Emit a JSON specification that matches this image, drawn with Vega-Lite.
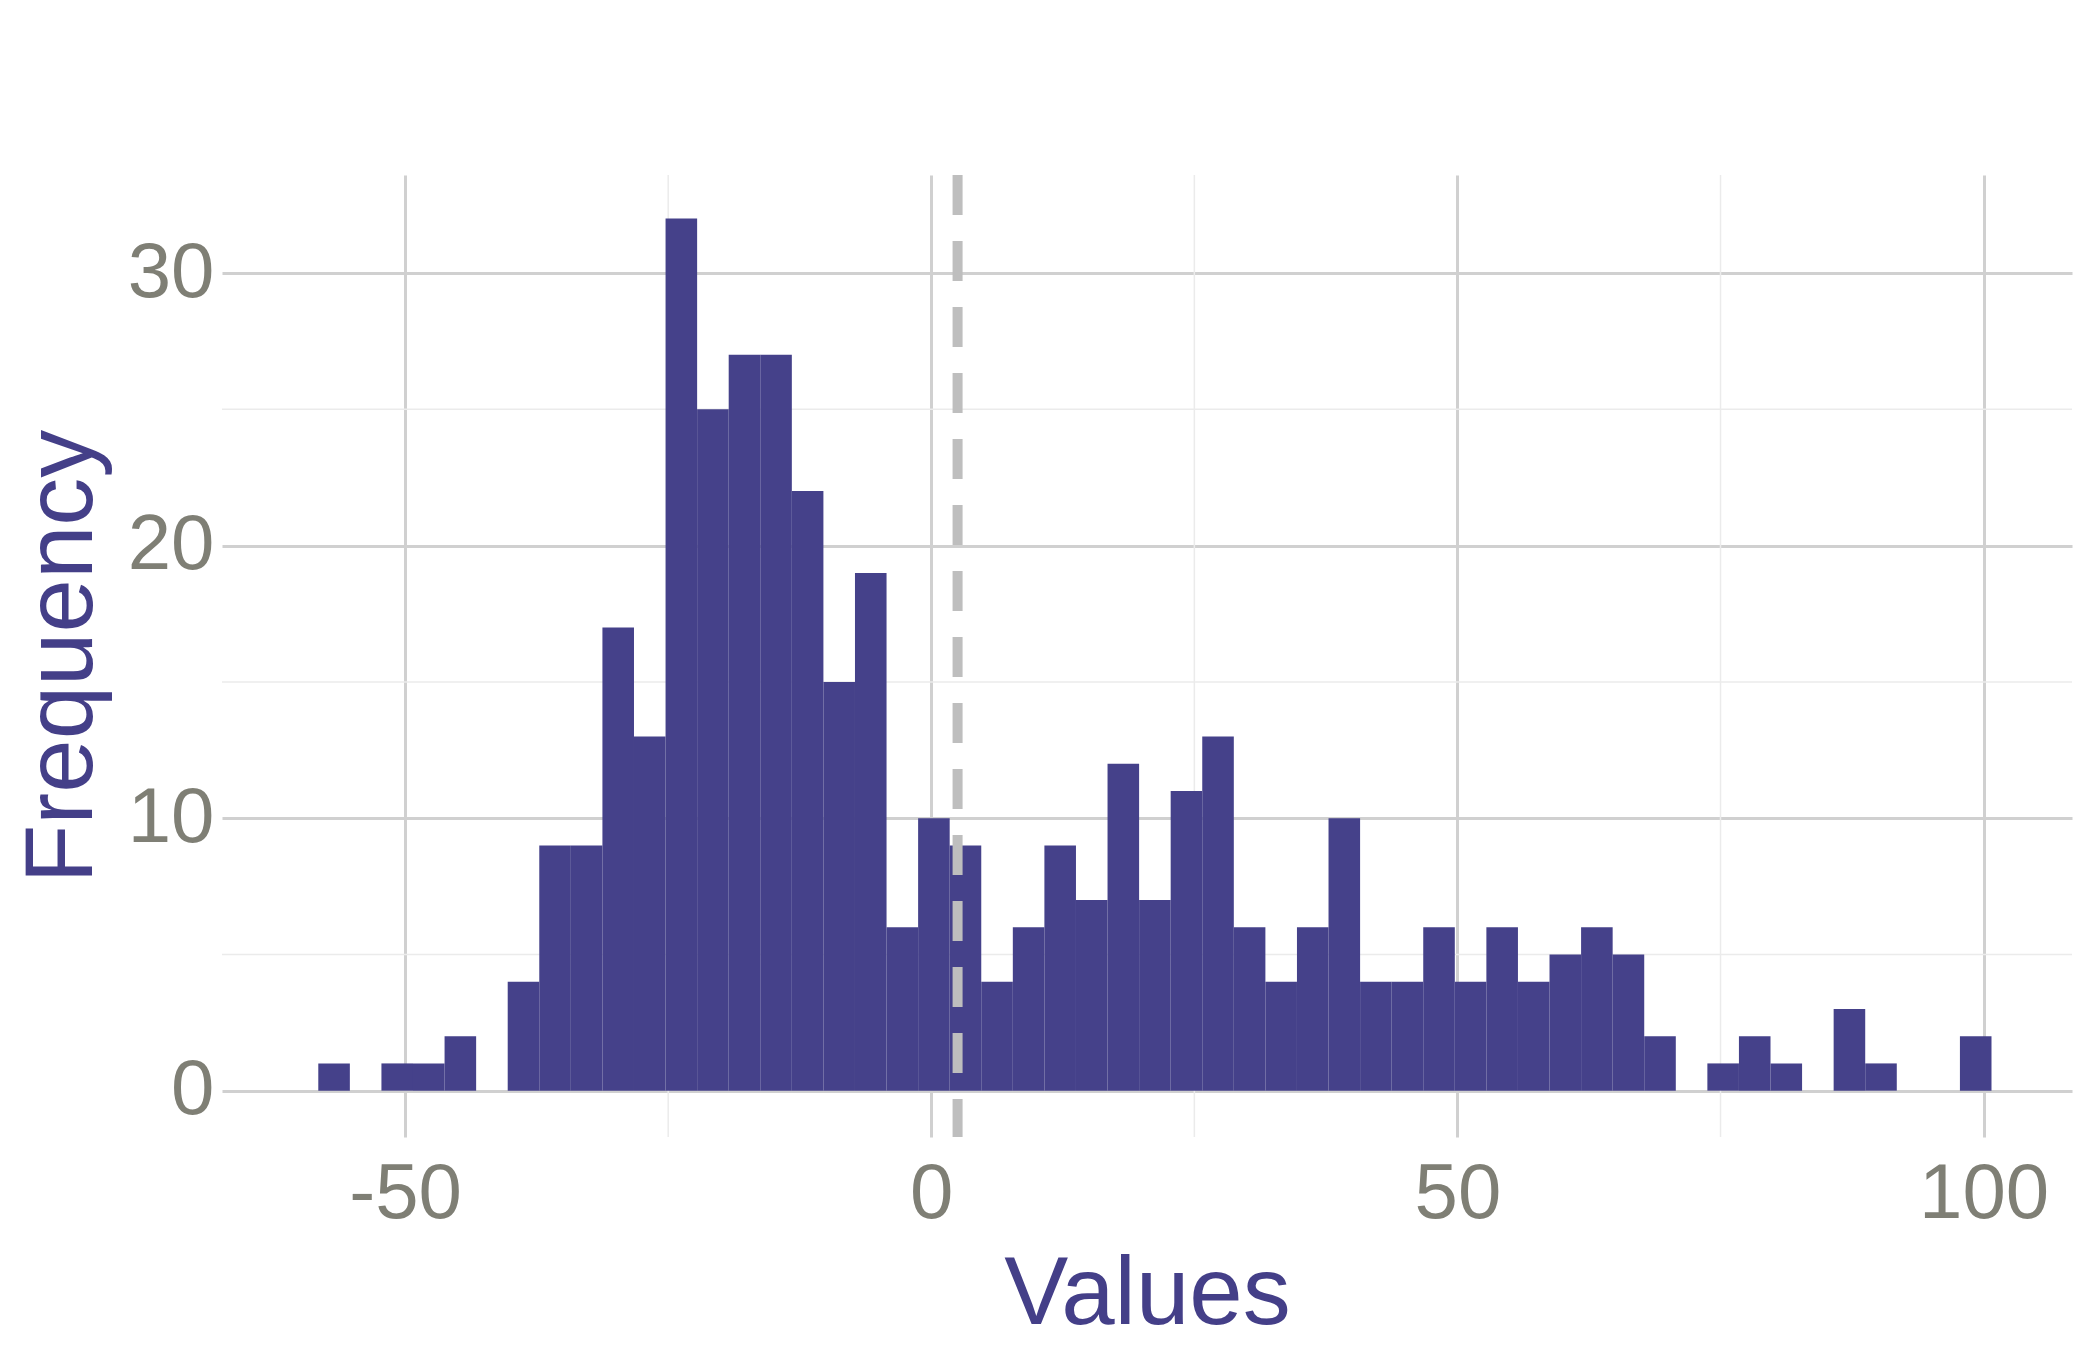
{
  "$schema": "https://vega.github.io/schema/vega-lite/v6.json",
  "width": 1850,
  "height": 962,
  "autosize": "none",
  "padding": {"left": 222, "top": 175, "right": 28, "bottom": 213},
  "background": "white",
  "config": {
    "view": {"stroke": null},
    "font": "Liberation Sans",
    "axis": {
      "domain": false,
      "ticks": false,
      "gridColor": "#d0d0d0",
      "gridWidth": 3,
      "labelFont": "Liberation Sans",
      "labelFontSize": 78,
      "labelColor": "#7f7f75",
      "titleFont": "Liberation Sans",
      "titleFontSize": 96,
      "titleFontWeight": "normal",
      "titleColor": "#443f88"
    }
  },
  "data": {
    "values": [
      {"bin_start": -58.25, "bin_end": -55.25, "count": 1}, {"bin_start": -55.25, "bin_end": -52.25, "count": 0},
      {"bin_start": -52.25, "bin_end": -49.25, "count": 1}, {"bin_start": -49.25, "bin_end": -46.25, "count": 1},
      {"bin_start": -46.25, "bin_end": -43.25, "count": 2}, {"bin_start": -43.25, "bin_end": -40.25, "count": 0},
      {"bin_start": -40.25, "bin_end": -37.25, "count": 4}, {"bin_start": -37.25, "bin_end": -34.25, "count": 9},
      {"bin_start": -34.25, "bin_end": -31.25, "count": 9}, {"bin_start": -31.25, "bin_end": -28.25, "count": 17},
      {"bin_start": -28.25, "bin_end": -25.25, "count": 13}, {"bin_start": -25.25, "bin_end": -22.25, "count": 32},
      {"bin_start": -22.25, "bin_end": -19.25, "count": 25}, {"bin_start": -19.25, "bin_end": -16.25, "count": 27},
      {"bin_start": -16.25, "bin_end": -13.25, "count": 27}, {"bin_start": -13.25, "bin_end": -10.25, "count": 22},
      {"bin_start": -10.25, "bin_end": -7.25, "count": 15}, {"bin_start": -7.25, "bin_end": -4.25, "count": 19},
      {"bin_start": -4.25, "bin_end": -1.25, "count": 6}, {"bin_start": -1.25, "bin_end": 1.75, "count": 10},
      {"bin_start": 1.75, "bin_end": 4.75, "count": 9}, {"bin_start": 4.75, "bin_end": 7.75, "count": 4},
      {"bin_start": 7.75, "bin_end": 10.75, "count": 6}, {"bin_start": 10.75, "bin_end": 13.75, "count": 9},
      {"bin_start": 13.75, "bin_end": 16.75, "count": 7}, {"bin_start": 16.75, "bin_end": 19.75, "count": 12},
      {"bin_start": 19.75, "bin_end": 22.75, "count": 7}, {"bin_start": 22.75, "bin_end": 25.75, "count": 11},
      {"bin_start": 25.75, "bin_end": 28.75, "count": 13}, {"bin_start": 28.75, "bin_end": 31.75, "count": 6},
      {"bin_start": 31.75, "bin_end": 34.75, "count": 4}, {"bin_start": 34.75, "bin_end": 37.75, "count": 6},
      {"bin_start": 37.75, "bin_end": 40.75, "count": 10}, {"bin_start": 40.75, "bin_end": 43.75, "count": 4},
      {"bin_start": 43.75, "bin_end": 46.75, "count": 4}, {"bin_start": 46.75, "bin_end": 49.75, "count": 6},
      {"bin_start": 49.75, "bin_end": 52.75, "count": 4}, {"bin_start": 52.75, "bin_end": 55.75, "count": 6},
      {"bin_start": 55.75, "bin_end": 58.75, "count": 4}, {"bin_start": 58.75, "bin_end": 61.75, "count": 5},
      {"bin_start": 61.75, "bin_end": 64.75, "count": 6}, {"bin_start": 64.75, "bin_end": 67.75, "count": 5},
      {"bin_start": 67.75, "bin_end": 70.75, "count": 2}, {"bin_start": 70.75, "bin_end": 73.75, "count": 0},
      {"bin_start": 73.75, "bin_end": 76.75, "count": 1}, {"bin_start": 76.75, "bin_end": 79.75, "count": 2},
      {"bin_start": 79.75, "bin_end": 82.75, "count": 1}, {"bin_start": 82.75, "bin_end": 85.75, "count": 0},
      {"bin_start": 85.75, "bin_end": 88.75, "count": 3}, {"bin_start": 88.75, "bin_end": 91.75, "count": 1},
      {"bin_start": 91.75, "bin_end": 94.75, "count": 0}, {"bin_start": 94.75, "bin_end": 97.75, "count": 0},
      {"bin_start": 97.75, "bin_end": 100.75, "count": 2}
    ]
  },
  "layer": [
    {
      "data": {"values": [{"v": -25}, {"v": 25}, {"v": 75}]},
      "mark": {"type": "rule", "color": "#ebebeb", "strokeWidth": 1.5},
      "encoding": {"x": {"field": "v", "type": "quantitative"}}
    },
    {
      "data": {"values": [{"v": 5}, {"v": 15}, {"v": 25}]},
      "mark": {"type": "rule", "color": "#ebebeb", "strokeWidth": 1.5},
      "encoding": {"y": {"field": "v", "type": "quantitative"}}
    },
    {
      "mark": {"type": "rect", "color": "#45418a"},
      "encoding": {
        "x": {
          "field": "bin_start",
          "type": "quantitative",
          "scale": {"domain": [-67.4, 108.4], "nice": false, "zero": false},
          "axis": {"values": [-50, 0, 50, 100], "title": "Values", "labelPadding": 18, "titlePadding": 14,
                   "labelExpr": "replace(datum.label, '−', '-')"}
        },
        "x2": {"field": "bin_end"},
        "y": {
          "field": "count",
          "type": "quantitative",
          "scale": {"domain": [-1.7, 33.6], "nice": false, "zero": false},
          "axis": {"values": [0, 10, 20, 30], "title": "Frequency", "labelPadding": 8, "titlePadding": 16}
        },
        "y2": {"datum": 0}
      }
    },
    {
      "data": {"values": [{"v": 2.5}]},
      "mark": {"type": "rule", "color": "#bebebe", "strokeWidth": 10, "strokeDash": [40, 26]},
      "encoding": {"x": {"field": "v", "type": "quantitative"}}
    }
  ]
}
